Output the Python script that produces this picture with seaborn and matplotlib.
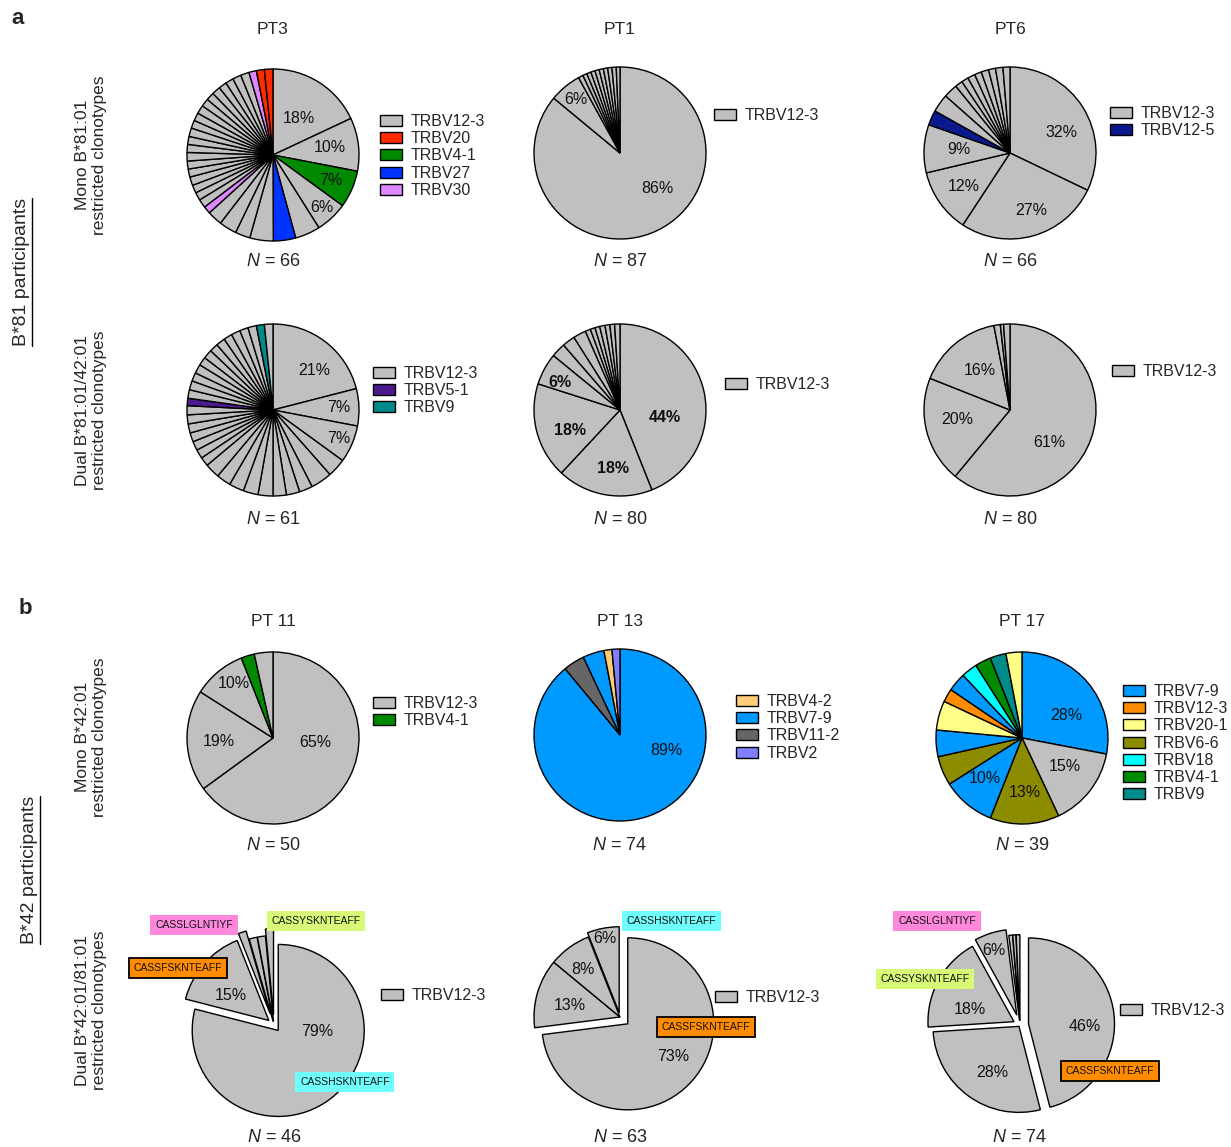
import numpy as np
import matplotlib
matplotlib.use("Agg")
import matplotlib.pyplot as plt
import seaborn as sns
from matplotlib.patches import Patch
from matplotlib.lines import Line2D

sns.set_theme(style="white")
plt.rcParams["font.family"] = ["Liberation Sans", "DejaVu Sans"]
plt.rcParams["mathtext.fontset"] = "custom"
plt.rcParams["mathtext.it"] = "Liberation Sans:italic"
plt.rcParams["mathtext.rm"] = "Liberation Sans"

W, H = 1231, 1147
R = 86  # pie radius in pixels

PALETTE = {
    "grey": "#C0C0C0", "red": "#FF2A00", "green": "#008A00", "royal": "#0033FF",
    "violet": "#DD88FF", "purple": "#4B1A8C", "teal": "#008B8B", "navy": "#0A1A8C",
    "sky": "#0099FF", "orange": "#FF8C00", "lemon": "#FFFF88", "olive": "#8C8C00",
    "cyan": "#00FFFF", "apricot": "#FFCC77", "darkgrey": "#666666", "slate": "#7F7FFF",
}
TAG_COLORS = {"pink": "#FF88DD", "lime": "#D8F878", "orange": "#FF8C00", "cyan": "#70FFFF"}

# ---------------- panel a: B*81 participants ----------------
pt3_mono_values = [18, 10, 7, 6, 4.7, 4.2, 4.4, 2.8, 3.3, 2.8, 1.4,
                   1.6, 1.5, 1.5, 1.6, 1.5, 1.5, 1.6, 1.5, 1.5, 1.6,
                   1.5, 1.5, 1.6, 1.5, 1.5, 1.6, 1.5, 1.5, 1.6, 1.6,
                   1.4, 1.5, 1.6]
pt3_mono_colors = {2: "green", 5: "royal", 10: "violet", 31: "violet", 32: "red", 33: "red"}
pt3_mono_legend = [("TRBV12-3", "grey"), ("TRBV20", "red"), ("TRBV4-1", "green"),
                   ("TRBV27", "royal"), ("TRBV30", "violet")]

pt1_mono_values = [86, 6, 0.9, 0.8, 0.8, 0.8, 0.8, 0.8, 0.8, 0.8, 0.8, 0.7]
pt1_mono_colors = {}
pt1_mono_legend = [("TRBV12-3", "grey")]

pt6_mono_values = [32, 27, 12, 9, 2.8, 3.4, 2.6, 1.4, 1.3, 1.4, 1.3, 1.4, 1.3, 1.4, 1.3]
pt6_mono_colors = {4: "navy"}
pt6_mono_legend = [("TRBV12-3", "grey"), ("TRBV12-5", "navy")]

pt3_dual_values = [21, 7, 7, 3.5, 4, 2.5, 2.5, 2.5, 2.8, 2.8, 2.8, 2.7, 2.8,
                   1.7, 1.7, 1.7, 1.7, 1.7, 1.7, 1.7, 1.4,
                   1.6, 1.7, 1.6, 1.7, 1.6, 1.7, 1.6, 1.7, 1.6, 1.7, 1.6, 1.6,
                   1.5, 1.6]
pt3_dual_colors = {20: "purple", 33: "teal"}
pt3_dual_legend = [("TRBV12-3", "grey"), ("TRBV5-1", "purple"), ("TRBV9", "teal")]

pt1_dual_values = [44, 18, 18, 6, 2.7, 2.4, 2.4, 1.0, 0.9, 0.9, 1.0, 0.9, 0.9, 1.0]
pt1_dual_colors = {}
pt1_dual_legend = [("TRBV12-3", "grey")]

pt6_dual_values = [61, 20, 16, 1.2, 0.6, 1.2]
pt6_dual_colors = {}
pt6_dual_legend = [("TRBV12-3", "grey")]

# ---------------- panel b: B*42 participants ----------------
pt11_mono_values = [65, 19, 10, 2.5, 3.5]
pt11_mono_colors = {3: "green"}
pt11_mono_legend = [("TRBV12-3", "grey"), ("TRBV4-1", "green")]

pt13_mono_values = [89, 4, 4, 1.5, 1.5]
pt13_mono_colors = {0: "sky", 1: "darkgrey", 2: "sky", 3: "apricot", 4: "slate"}
pt13_mono_legend = [("TRBV4-2", "apricot"), ("TRBV7-9", "sky"),
                    ("TRBV11-2", "darkgrey"), ("TRBV2", "slate")]

pt17_mono_values = [28, 15, 13, 10, 5.5, 5, 5.5, 2.5, 3.5, 3, 3, 3, 3]
pt17_mono_colors = {0: "sky", 2: "olive", 3: "sky", 4: "olive", 5: "sky", 6: "lemon",
                    7: "orange", 8: "sky", 9: "cyan", 10: "green", 11: "teal", 12: "lemon"}
pt17_mono_legend = [("TRBV7-9", "sky"), ("TRBV12-3", "orange"), ("TRBV20-1", "lemon"),
                    ("TRBV6-6", "olive"), ("TRBV18", "cyan"), ("TRBV4-1", "green"),
                    ("TRBV9", "teal")]

pt11_dual_values = [79, 15, 1.5, 1.5, 1.5, 1.5]
pt11_dual_colors = {}
pt11_dual_legend = [("TRBV12-3", "grey")]

pt13_dual_values = [73, 13, 8, 6]
pt13_dual_colors = {}
pt13_dual_legend = [("TRBV12-3", "grey")]

pt17_dual_values = [46, 28, 18, 6, 0.7, 0.6, 0.7]
pt17_dual_colors = {}
pt17_dual_legend = [("TRBV12-3", "grey")]

clonotype_counts = {"PT3m": 66, "PT1m": 87, "PT6m": 66, "PT3d": 61, "PT1d": 80, "PT6d": 80,
                    "PT11m": 50, "PT13m": 74, "PT17m": 39, "PT11d": 46, "PT13d": 63, "PT17d": 74}

# CDR3 sequence tags: (text, colour, outlined, x px, y px)
cdr3_tags = [
    ("CASSLGLNTIYF", "pink", False, 194, 925),
    ("CASSYSKNTEAFF", "lime", False, 316, 921),
    ("CASSFSKNTEAFF", "orange", True, 178, 968),
    ("CASSHSKNTEAFF", "cyan", False, 345, 1082),
    ("CASSHSKNTEAFF", "cyan", False, 671, 921),
    ("CASSFSKNTEAFF", "orange", True, 706, 1027),
    ("CASSLGLNTIYF", "pink", False, 937, 921),
    ("CASSYSKNTEAFF", "lime", False, 925, 979),
    ("CASSFSKNTEAFF", "orange", True, 1110, 1071),
]

# ---------------- layout of every pie ----------------
# labels: (slice index, radial distance, position along the wedge arc 0..1)
pies = [
    dict(values=pt3_mono_values, colors=pt3_mono_colors, legend=pt3_mono_legend, key="PT3m",
         title="PT3", center=(273, 155), leg=(380, 120), n_y=262,
         labels=[(0, 0.52, 0.55), (1, 0.67, 0.5), (2, 0.73, 0.5), (3, 0.84, 0.5)]),
    dict(values=pt1_mono_values, colors=pt1_mono_colors, legend=pt1_mono_legend, key="PT1m",
         title="PT1", center=(620, 153), leg=(714, 114), n_y=262,
         labels=[(0, 0.6, 0.43), (1, 0.81, 0.5)]),
    dict(values=pt6_mono_values, colors=pt6_mono_colors, legend=pt6_mono_legend, key="PT6m",
         title="PT6", center=(1010, 153), leg=(1110, 112), n_y=262,
         labels=[(0, 0.65, 0.59), (1, 0.71, 0.45), (2, 0.67, 0.48), (3, 0.6, 0.54)]),
    dict(values=pt3_dual_values, colors=pt3_dual_colors, legend=pt3_dual_legend, key="PT3d",
         title=None, center=(273, 410), leg=(373, 372), n_y=519,
         labels=[(0, 0.66, 0.61), (1, 0.77, 0.5), (2, 0.83, 0.5)]),
    dict(values=pt1_dual_values, colors=pt1_dual_colors, legend=pt1_dual_legend, key="PT1d",
         title=None, center=(620, 410), leg=(725, 383), n_y=519, bold=True,
         labels=[(0, 0.53, 0.63), (1, 0.68, 0.44), (2, 0.63, 0.38), (3, 0.77, 0.3)]),
    dict(values=pt6_dual_values, colors=pt6_dual_colors, legend=pt6_dual_legend, key="PT6d",
         title=None, center=(1010, 410), leg=(1112, 370), n_y=519,
         labels=[(0, 0.6, 0.59), (1, 0.62, 0.56), (2, 0.58, 0.54)]),
    dict(values=pt11_mono_values, colors=pt11_mono_colors, legend=pt11_mono_legend, key="PT11m",
         title="PT 11", center=(273, 738), leg=(373, 702), n_y=845,
         labels=[(0, 0.49, 0.41), (1, 0.63, 0.47), (2, 0.78, 0.62)]),
    dict(values=pt13_mono_values, colors=pt13_mono_colors, legend=pt13_mono_legend, key="PT13m",
         title="PT 13", center=(620, 735), leg=(736, 700), n_y=845,
         labels=[(0, 0.57, 0.34)]),
    dict(values=pt17_mono_values, colors=pt17_mono_colors, legend=pt17_mono_legend, key="PT17m",
         title="PT 17", center=(1022, 738), leg=(1123, 690), n_y=845,
         labels=[(0, 0.58, 0.63), (1, 0.6, 0.41), (2, 0.64, 0.47), (3, 0.64, 0.59)]),
    dict(values=pt11_dual_values, colors=pt11_dual_colors, legend=pt11_dual_legend, key="PT11d",
         title=None, center=(274, 1025), leg=(381, 994), n_y=1137,
         explode=[0.08, 0.08, 0.14, 0.04, 0.04, 0.12],
         labels=[(0, 0.45, 0.32), (1, 0.53, 0.36)]),
    dict(values=pt13_dual_values, colors=pt13_dual_colors, legend=pt13_dual_legend, key="PT13d",
         title=None, center=(620, 1017), leg=(715, 996), n_y=1137,
         explode=[0.12, 0, 0, 0.05],
         labels=[(0, 0.65, 0.48), (1, 0.6, 0.44), (2, 0.7, 0.42), (3, 0.88, 0.5)]),
    dict(values=pt17_dual_values, colors=pt17_dual_colors, legend=pt17_dual_legend, key="PT17d",
         title=None, center=(1020, 1025), leg=(1120, 1009), n_y=1137,
         explode=[0.1, 0.02, 0.08, 0.12, 0.05, 0.05, 0.05],
         labels=[(0, 0.65, 0.56), (1, 0.62, 0.44), (2, 0.53, 0.29), (3, 0.8, 0.45)]),
]

fig = plt.figure(figsize=(W / 100, H / 100), dpi=100)
fig.patch.set_facecolor("white")


def fx(x):
    return x / W


def fy(y):
    return 1 - y / H


S = 300
for spec in pies:
    cx, cy = spec["center"]
    ax = fig.add_axes([fx(cx - S / 2), fy(cy + S / 2), S / W, S / H])
    vals = spec["values"]
    cols = [PALETTE[spec["colors"].get(i, "grey")] for i in range(len(vals))]
    wedges, _ = ax.pie(vals, colors=cols, startangle=90, counterclock=False,
                       explode=spec.get("explode"),
                       wedgeprops=dict(edgecolor="black", linewidth=1.0))
    L = S / 2 / R
    ax.set_xlim(-L, L)
    ax.set_ylim(-L, L)
    ax.set_aspect("equal")
    ax.axis("off")
    for idx, r, frac in spec["labels"]:
        w = wedges[idx]
        # wedges run clockwise, so theta2 is where the slice starts
        ang = np.deg2rad(w.theta2 - frac * (w.theta2 - w.theta1))
        x = w.center[0] + r * np.cos(ang)
        y = w.center[1] + r * np.sin(ang)
        ax.text(x, y, f"{vals[idx]:g}%", ha="center", va="center", fontsize=11.5,
                color="#111111", fontweight="bold" if spec.get("bold") else "normal")
    if spec["title"]:
        ty = 30 if cy < 500 else 621
        fig.text(fx(cx), fy(ty), spec["title"], ha="center", va="center", fontsize=12.5)
    fig.text(fx(cx), fy(spec["n_y"]), rf"$N$ = {clonotype_counts[spec['key']]}",
             ha="center", va="center", fontsize=13)
    handles = [Patch(facecolor=PALETTE[c], edgecolor="black", linewidth=1.0, label=l)
               for l, c in spec["legend"]]
    lx, ly = spec["leg"]
    fig.legend(handles=handles, loc="upper left", bbox_to_anchor=(fx(lx), fy(ly - 6)),
               frameon=False, borderpad=0, borderaxespad=0, handlelength=1.35,
               handleheight=0.7, handletextpad=0.55, labelspacing=0.14, fontsize=11.5)

for text, col, outlined, x, y in cdr3_tags:
    fig.text(fx(x), fy(y), text, ha="center", va="center", fontsize=7.5, color="#111111",
             bbox=dict(boxstyle="square,pad=0.45", fc=TAG_COLORS[col],
                       ec="black" if outlined else "none", lw=1.3))

# row captions
row_captions = [("Mono B*81:01\nrestricted clonotypes", 155),
                ("Dual B*81:01/42:01\nrestricted clonotypes", 410),
                ("Mono B*42:01\nrestricted clonotypes", 737),
                ("Dual B*42:01/81:01\nrestricted clonotypes", 1010)]
for txt, y in row_captions:
    fig.text(fx(91), fy(y), txt, rotation=90, ha="center", va="center",
             fontsize=12.5, linespacing=1.2, multialignment="center")

# panel letters
fig.text(fx(18), fy(18), "a", ha="center", va="center", fontsize=16, fontweight="bold")
fig.text(fx(25), fy(608), "b", ha="center", va="center", fontsize=16, fontweight="bold")

# group labels, underlined
group_texts = []
for txt, x, y in [("B*81 participants", 22, 272), ("B*42 participants", 30, 870)]:
    group_texts.append(fig.text(fx(x), fy(y), txt, rotation=90, ha="center", va="center",
                                fontsize=14))
fig.canvas.draw()
renderer = fig.canvas.get_renderer()
for t in group_texts:
    bb = t.get_window_extent(renderer)
    xline = (bb.x1 + 1) / W
    fig.add_artist(Line2D([xline, xline], [bb.y0 / H, bb.y1 / H], color="black", lw=1.0))

fig.savefig("out.png", dpi=100, facecolor="white")
